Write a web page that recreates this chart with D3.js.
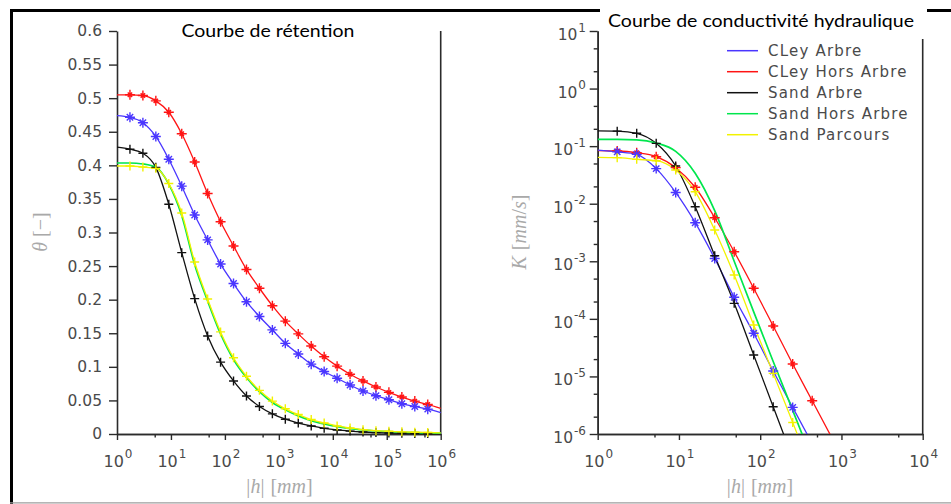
<!DOCTYPE html>
<html>
<head>
<meta charset="utf-8">
<script src="https://cdn.jsdelivr.net/npm/d3@7"></script>
<style>
  body { margin: 0; background: #fff; }
  svg { display: block; }
</style>
</head>
<body>
<svg id="fig" width="951" height="504"></svg>
<script>
// Suction grid |h| in mm (shared by both panels)
const hSuction = [1, 1.738, 3.020, 5.248, 9.120, 15.85, 27.54, 47.86, 83.18, 144.5, 251.2, 436.5,
  758.6, 1318, 2291, 3981, 6918, 12023, 20893, 36308, 63096, 109648, 190546, 331131, 575440, 1000000];

// Retention curves theta(|h|)
const thetaCleyArbre = [0.474, 0.4715, 0.4635, 0.443, 0.409, 0.369, 0.326, 0.289, 0.253, 0.224, 0.197, 0.175,
  0.155, 0.135, 0.119, 0.104, 0.093, 0.083, 0.073, 0.064, 0.057, 0.051, 0.045, 0.041, 0.037, 0.032];
const thetaCleyHorsArbre = [0.505, 0.505, 0.504, 0.496, 0.479, 0.447, 0.405, 0.358, 0.316, 0.280, 0.245, 0.217,
  0.191, 0.168, 0.149, 0.131, 0.115, 0.101, 0.089, 0.079, 0.070, 0.062, 0.055, 0.049, 0.044, 0.038];
const thetaSandArbre = [0.427, 0.424, 0.418, 0.397, 0.342, 0.270, 0.2015, 0.146, 0.107, 0.079, 0.0566, 0.041,
  0.030, 0.022, 0.0163, 0.012, 0.0085, 0.006, 0.0043, 0.003, 0.0021, 0.0015, 0.0011, 0.0008, 0.0006, 0.0004];
const thetaSandHorsArbre = [0.4035, 0.4035, 0.402, 0.397, 0.372, 0.325, 0.252, 0.198, 0.149, 0.111, 0.084, 0.063,
  0.047, 0.036, 0.027, 0.020, 0.015, 0.011, 0.008, 0.006, 0.0045, 0.0034, 0.0026, 0.002, 0.0016, 0.0012];
const thetaSandParcours = [0.399, 0.399, 0.3975, 0.3955, 0.373, 0.329, 0.256, 0.201, 0.152, 0.1135, 0.086, 0.065,
  0.049, 0.0375, 0.029, 0.0215, 0.0165, 0.012, 0.009, 0.0065, 0.005, 0.004, 0.0032, 0.0026, 0.0022, 0.0018];

// Hydraulic conductivity curves K(|h|) in mm/s
const kCleyArbre = [0.0851, 0.0794, 0.072, 0.0407, 0.01567, 0.00468, 0.00112, 2.37e-4, 5.62e-5, 1.24e-5, 2.90e-6, 6.8e-7];
const kCleyHorsArbre = [0.0834, 0.0824, 0.0769, 0.0656, 0.0423, 0.0193, 0.00571, 0.001466, 3.40e-4, 7.52e-5, 1.64e-5, 3.78e-6, 8.7e-7];
const kSandArbre = [0.184, 0.182, 0.1671, 0.1119, 0.0452, 0.00887, 0.00125, 1.86e-4, 2.36e-5, 2.98e-6, 3.8e-7];
const kSandHorsArbre = [0.1312, 0.131, 0.1288, 0.1135, 0.0813, 0.0339, 0.0076, 1.0e-3, 1.32e-4, 1.82e-5, 2.57e-6, 3.6e-7];
const kSandParcours = [0.0640, 0.0631, 0.0590, 0.0558, 0.0385, 0.01618, 0.00349, 5.78e-4, 7.82e-5, 1.13e-5, 1.58e-6, 2.2e-7];

const seriesNames = ["CLey Arbre", "CLey Hors Arbre", "Sand Arbre", "Sand Hors Arbre", "Sand Parcours"];
const seriesColors = ["#4a36ff", "#ff1414", "#111111", "#00e64d", "#f2f200"];
const seriesMarkers = ["star", "cross", "plus", "none", "plus"];

const thetaSeries = [thetaCleyArbre, thetaCleyHorsArbre, thetaSandArbre, thetaSandHorsArbre, thetaSandParcours];
const kSeries = [kCleyArbre, kCleyHorsArbre, kSandArbre, kSandHorsArbre, kSandParcours];

const thetaTicks = [0, 0.05, 0.1, 0.15, 0.2, 0.25, 0.3, 0.35, 0.4, 0.45, 0.5, 0.55, 0.6];
const hTicksLeft = [1, 10, 100, 1e3, 1e4, 1e5, 1e6];
const hTicksRight = [1, 10, 100, 1e3, 1e4];
const kTicks = [1e-6, 1e-5, 1e-4, 1e-3, 1e-2, 1e-1, 1, 10];

const svg = d3.select("#fig");
const AXIS = "#2b2b2b", LABEL = "#4a4a4a", TITLE_GRAY = "#a9a9a9";
const tickFont = "'DejaVu Sans', sans-serif";
const mathFont = "'Liberation Serif', 'DejaVu Serif', serif";

// ---------- scales ----------
const xL = d3.scaleLog().domain([1, 1e6]).range([117, 440.7]);
const yL = d3.scaleLinear().domain([0, 0.6]).range([434, 31]);
const xR = d3.scaleLog().domain([1, 1e4]).range([597.7, 922.7]);
const yR = d3.scaleLog().domain([1e-6, 10]).range([434, 31]);

// ---------- outer frame ----------
svg.append("line").attr("x1", 10).attr("x2", 951).attr("y1", 10.5).attr("y2", 10.5)
  .attr("stroke", "#000").attr("stroke-width", 3);
svg.append("line").attr("x1", 11.5).attr("x2", 11.5).attr("y1", 9).attr("y2", 504)
  .attr("stroke", "#000").attr("stroke-width", 3);
svg.append("line").attr("x1", 10).attr("x2", 951).attr("y1", 502.8).attr("y2", 502.8)
  .attr("stroke", "#9c9c9c").attr("stroke-width", 1.2);

// ---------- helpers ----------
function markerPath(type) {
  if (type === "plus") return "M-4.5,0H4.5M0,-4.5V4.5";
  if (type === "cross") return "M-5,0H5M0,-5V5M-2.2,-2.2L2.2,2.2M-2.2,2.2L2.2,-2.2";
  if (type === "star") return "M-5,0H5M0,-5V5M-3.2,-3.2L3.2,3.2M-3.2,3.2L3.2,-3.2";
  return "";
}

function styleAxis(g) {
  g.selectAll("path.domain").attr("stroke", AXIS).attr("stroke-width", 1.6);
  g.selectAll(".tick line").attr("stroke", AXIS).attr("stroke-width", 1.4);
  g.selectAll(".tick text").attr("fill", LABEL).style("font-family", tickFont).style("font-size", "15.5px");
}

function minorLogTicks(lo, hi, mults) {
  const out = [];
  for (let e = Math.round(Math.log10(lo)); e < Math.round(Math.log10(hi)); e++) {
    mults.forEach(m => out.push(m * Math.pow(10, e)));
  }
  return out;
}

// power-of-ten label: "10" with raised exponent
function powerLabel(sel, v, bigSize, smallSize, rise) {
  const e = Math.round(Math.log10(v));
  sel.append("tspan").text("10").style("font-size", bigSize + "px");
  sel.append("tspan").attr("dy", -rise).attr("dx", 1).text(String(e)).style("font-size", smallSize + "px");
}

// ---------- LEFT PANEL: retention ----------
const gL = svg.append("g");

// bottom axis (log |h|)
const axBL = gL.append("g").attr("transform", "translate(0,434)")
  .call(d3.axisBottom(xL).tickValues(hTicksLeft).tickSize(6).tickSizeOuter(0).tickFormat(""));
styleAxis(axBL);
const axBLm = gL.append("g").attr("transform", "translate(0,434)")
  .call(d3.axisBottom(xL).tickValues(minorLogTicks(1, 1e6, [5])).tickSize(3.5).tickSizeOuter(0).tickFormat(""));
styleAxis(axBLm);
hTicksLeft.forEach(v => {
  const t = gL.append("text").attr("x", xL(v) + 1).attr("y", 467).attr("text-anchor", "middle")
    .attr("fill", LABEL).style("font-family", tickFont);
  powerLabel(t, v, 16, 12, 9);
});

// left axis (theta)
const axLL = gL.append("g").attr("transform", "translate(117,0)")
  .call(d3.axisLeft(yL).tickValues(thetaTicks).tickSize(8).tickSizeOuter(0).tickPadding(7)
    .tickFormat(d => String(+d.toFixed(2))));
styleAxis(axLL);

// right frame line
gL.append("line").attr("x1", 440.7).attr("x2", 440.7).attr("y1", 31).attr("y2", 434)
  .attr("stroke", AXIS).attr("stroke-width", 1.6);

// curves
const lineL = d3.line().x((d, i) => xL(hSuction[i])).y(d => yL(d)).curve(d3.curveMonotoneX);
const drawOrder = [1, 0, 2, 3, 4];
drawOrder.forEach(s => {
  gL.append("path").datum(thetaSeries[s]).attr("d", lineL)
    .attr("fill", "none").attr("stroke", seriesColors[s]).attr("stroke-width", s === 3 ? 1.7 : 1.3);
});
drawOrder.forEach(s => {
  if (seriesMarkers[s] === "none") return;
  const pts = thetaSeries[s].map((v, i) => [hSuction[i], v]).filter((p, i) => i >= 1 && i <= 24);
  gL.selectAll(null).data(pts).enter().append("path")
    .attr("transform", p => `translate(${xL(p[0])},${yL(p[1])})`)
    .attr("d", markerPath(seriesMarkers[s]))
    .attr("fill", "none").attr("stroke", seriesColors[s]).attr("stroke-width", 1.4);
});

// titles
gL.append("text").attr("x", 181.5).attr("y", 37).attr("textLength", 173).attr("lengthAdjust", "spacingAndGlyphs")
  .style("font-family", "Lato, 'Open Sans', sans-serif").style("font-size", "18px").attr("fill", "#000")
  .text("Courbe de rétention");

const xTitleL = gL.append("text").attr("x", 279.5).attr("y", 493).attr("text-anchor", "middle")
  .attr("fill", TITLE_GRAY).style("font-family", mathFont).style("font-size", "20px");
function hLabel(t) {
  t.append("tspan").text("|");
  t.append("tspan").text("h").style("font-style", "italic");
  t.append("tspan").text("|");
  t.append("tspan").attr("dx", 6).text("[");
  t.append("tspan").text("mm").style("font-style", "italic");
  t.append("tspan").text("]");
}
hLabel(xTitleL);

const yTitleL = gL.append("text").attr("transform", "translate(47,232) rotate(-90)").attr("text-anchor", "middle")
  .attr("fill", TITLE_GRAY).style("font-family", mathFont).style("font-size", "20px");
yTitleL.append("tspan").text("θ").style("font-style", "italic");
yTitleL.append("tspan").attr("dx", 5).text("[−]");

// ---------- RIGHT PANEL: conductivity ----------
const gR = svg.append("g");

const axBR = gR.append("g").attr("transform", "translate(0,434)")
  .call(d3.axisBottom(xR).tickValues(hTicksRight).tickSize(6).tickSizeOuter(0).tickFormat(""));
styleAxis(axBR);
const axBRm = gR.append("g").attr("transform", "translate(0,434)")
  .call(d3.axisBottom(xR).tickValues(minorLogTicks(1, 1e4, [5])).tickSize(3.5).tickSizeOuter(0).tickFormat(""));
styleAxis(axBRm);
hTicksRight.forEach(v => {
  const t = gR.append("text").attr("x", xR(v) + 1).attr("y", 467).attr("text-anchor", "middle")
    .attr("fill", LABEL).style("font-family", tickFont);
  powerLabel(t, v, 16, 12, 9);
});

const axLR = gR.append("g").attr("transform", "translate(597.7,0)")
  .call(d3.axisLeft(yR).tickValues(kTicks).tickSize(8).tickSizeOuter(0).tickFormat(""));
styleAxis(axLR);
const axLRm = gR.append("g").attr("transform", "translate(597.7,0)")
  .call(d3.axisLeft(yR).tickValues(minorLogTicks(1e-6, 10, [2, 5])).tickSize(4).tickSizeOuter(0).tickFormat(""));
styleAxis(axLRm);
kTicks.forEach(v => {
  const t = gR.append("text").attr("x", 586).attr("y", yR(v) + 9).attr("text-anchor", "end")
    .attr("fill", LABEL).style("font-family", tickFont);
  powerLabel(t, v, 15.5, 12, 8.5);
});

gR.append("line").attr("x1", 922.7).attr("x2", 922.7).attr("y1", 31).attr("y2", 434)
  .attr("stroke", AXIS).attr("stroke-width", 1.6);

// clip the curves to the plotting area
svg.append("defs").append("clipPath").attr("id", "clipR")
  .append("rect").attr("x", 597.7).attr("y", 31).attr("width", 325).attr("height", 403);
const plotR = gR.append("g").attr("clip-path", "url(#clipR)");

const lineR = d3.line().x((d, i) => xR(hSuction[i])).y(d => yR(d)).curve(d3.curveMonotoneX);
drawOrder.forEach(s => {
  plotR.append("path").datum(kSeries[s]).attr("d", lineR)
    .attr("fill", "none").attr("stroke", seriesColors[s]).attr("stroke-width", s === 3 ? 1.7 : 1.3);
});
drawOrder.forEach(s => {
  if (seriesMarkers[s] === "none") return;
  const pts = kSeries[s].map((v, i) => [hSuction[i], v]).filter((p, i) => i >= 1 && p[1] >= 1e-6);
  plotR.selectAll(null).data(pts).enter().append("path")
    .attr("transform", p => `translate(${xR(p[0])},${yR(p[1])})`)
    .attr("d", markerPath(seriesMarkers[s]))
    .attr("fill", "none").attr("stroke", seriesColors[s]).attr("stroke-width", 1.4);
});

// legend
const legend = gR.append("g");
seriesNames.forEach((name, i) => {
  const y = 50.7 + i * 21;
  legend.append("line").attr("x1", 727).attr("x2", 758).attr("y1", y).attr("y2", y)
    .attr("stroke", seriesColors[i]).attr("stroke-width", 1.5);
  legend.append("text").attr("x", 768).attr("y", y + 5.5).text(name)
    .attr("fill", LABEL).style("font-family", tickFont).style("font-size", "15px").style("letter-spacing", "1.2px");
});

// title on a white band that interrupts the frame
gR.append("rect").attr("x", 600).attr("y", 0).attr("width", 327).attr("height", 39).attr("fill", "#fff");
gR.append("text").attr("x", 608).attr("y", 27).attr("textLength", 306).attr("lengthAdjust", "spacingAndGlyphs")
  .style("font-family", "Lato, 'Open Sans', sans-serif").style("font-size", "18px").attr("fill", "#000")
  .text("Courbe de conductivité hydraulique");

const xTitleR = gR.append("text").attr("x", 760).attr("y", 493).attr("text-anchor", "middle")
  .attr("fill", TITLE_GRAY).style("font-family", mathFont).style("font-size", "20px");
hLabel(xTitleR);

const yTitleR = gR.append("text").attr("transform", "translate(526,232) rotate(-90)").attr("text-anchor", "middle")
  .attr("fill", TITLE_GRAY).style("font-family", mathFont).style("font-size", "20px");
yTitleR.append("tspan").text("K").style("font-style", "italic");
yTitleR.append("tspan").attr("dx", 6).text("[");
yTitleR.append("tspan").text("mm").style("font-style", "italic");
yTitleR.append("tspan").text("/");
yTitleR.append("tspan").text("s").style("font-style", "italic");
yTitleR.append("tspan").text("]");
</script>
</body>
</html>
